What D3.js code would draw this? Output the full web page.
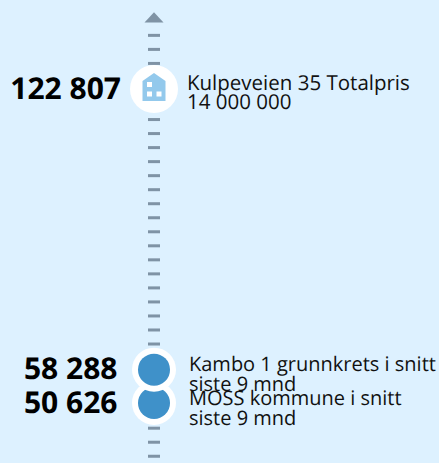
<!DOCTYPE html>
<html>
<head>
<meta charset="utf-8">
<script src="https://cdnjs.cloudflare.com/ajax/libs/d3/7.8.5/d3.min.js"></script>
<style>
  html, body { margin: 0; padding: 0; background: #ddf1ff; }
  svg { display: block; }
  text { font-family: "Open Sans", sans-serif; fill: #111; text-rendering: geometricPrecision; }
</style>
</head>
<body>
<div id="chart"></div>
<script>
// Values
const values = [122807, 58288, 50626];
const valueLabels = ['122 807', '58 288', '50 626'];
const descriptions = [
  ['Kulpeveien 35 Totalpris', '14 000 000'],
  ['Kambo 1 grunnkrets i snitt', 'siste 9 mnd'],
  ['MOSS kommune i snitt', 'siste 9 mnd']
];
const kinds = ['house', 'dot', 'dot'];

const width = 439;
const height = 463;
const axisX = 154;

const svg = d3.select('#chart').append('svg')
  .attr('width', width)
  .attr('height', height);

const y = d3.scaleLinear()
  .domain([50626, 122807])
  .range([403, 89]);

// Dashes along the axis, one every 3225 or so
const tickValues = d3.range(0, 31).map(i => 135250 - i * 3225);
const axis = d3.axisLeft(y)
  .tickValues(tickValues)
  .tickSize(0)
  .tickFormat('');

const axisG = svg.append('g')
  .attr('transform', 'translate(' + axisX + ',0)')
  .call(axis);
axisG.select('.domain').remove();
axisG.selectAll('.tick').append('rect')
  .attr('x', -6)
  .attr('y', -1.5)
  .attr('width', 12)
  .attr('height', 3)
  .attr('fill', '#7f93a5');

// Arrow on top of the axis
svg.append('path')
  .attr('d', 'M-9.5,5 L0,-5.2 L9.5,5 Z')
  .attr('transform', 'translate(' + axisX + ',17.5)')
  .attr('fill', '#7f93a5');

// Reversed so the upper circle lies over the lower one
const points = svg.selectAll('g.point')
  .data(values.map((v, i) => ({ v, i })).reverse())
  .join('g')
  .attr('class', 'point')
  .attr('transform', d => 'translate(' + axisX + ',' + y(d.v) + ')');

points.append('circle')
  .attr('r', d => kinds[d.i] === 'house' ? 24 : 22)
  .attr('fill', '#fff');

points.filter(d => kinds[d.i] === 'dot').append('circle')
  .attr('r', 16)
  .attr('fill', '#3f91c9');

const house = points.filter(d => kinds[d.i] === 'house');
house.append('path')
  .attr('d', 'M-11.5,-8 L0,-16 L11.5,-8 L11.5,12 L-11.5,12 Z')
  .attr('fill', '#93c9ec');
house.selectAll('rect')
  .data([[-7, -7], [-7, 2.5], [2.5, 2.5]])
  .join('rect')
  .attr('x', d => d[0])
  .attr('y', d => d[1])
  .attr('width', 5)
  .attr('height', 5)
  .attr('fill', '#fff');

// Big numbers left of the axis
svg.selectAll('text.value')
  .data(values)
  .join('text')
  .attr('class', 'value')
  .attr('x', (d, i) => kinds[i] === 'house' ? 121 : 117.5)
  .attr('y', d => y(d) + 9.5)
  .attr('text-anchor', 'end')
  .attr('font-size', 30)
  .attr('font-weight', 700)
  .style('fill', '#000')
  .text((d, i) => valueLabels[i]);

// Two line descriptions right of the axis
const notes = svg.selectAll('text.note')
  .data(values)
  .join('text')
  .attr('class', 'note')
  .attr('font-size', (d, i) => kinds[i] === 'house' ? 20.5 : 20);
notes.each(function(d, i) {
  const left = kinds[i] === 'house' ? 187 : 189;
  d3.select(this).selectAll('tspan')
    .data(descriptions[i])
    .join('tspan')
    .attr('x', left)
    .attr('y', (t, j) => y(d) + (kinds[i] === 'house' ? 0.5 : 1.8) + j * 19.8)
    .text(t => t);
});
</script>
</body>
</html>
